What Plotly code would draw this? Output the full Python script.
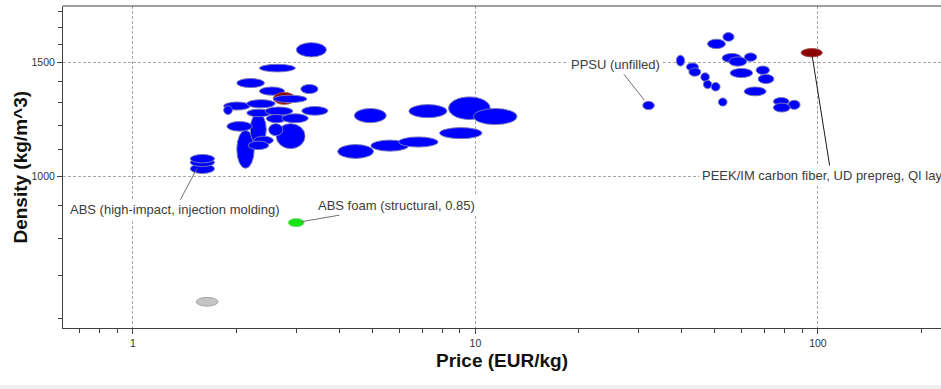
import math
import plotly.graph_objects as go

# Material property ranges: price (EUR/kg) and density (kg/m^3), low/high bounds.
price_lo = [2.01, 2.20, 3.00, 2.34, 2.01, 2.34, 3.09, 2.57, 2.57, 1.84, 1.84, 2.15, 3.11,
            2.15, 2.43, 2.45, 2.72, 1.88, 2.62, 2.49, 2.25, 2.17, 1.47, 1.47, 1.47,
            4.43, 6.39, 8.35, 9.87, 7.86, 4.95, 5.96, 3.96,
            30.8, 38.6, 41.3, 42.0, 45.5, 46.3, 48.8, 51.2, 47.6, 52.8, 52.5, 54.9, 61.0,
            55.4, 66.0, 66.9, 60.9, 74.1, 82.0, 74.1, 89.3, 2.84, 1.53]
price_hi = [2.26, 2.45, 3.67, 2.98, 2.42, 2.77, 3.47, 2.98, 3.22, 2.20, 1.95, 2.60, 3.71,
            2.53, 2.93, 2.81, 3.25, 2.23, 3.18, 2.74, 2.57, 2.49, 1.73, 1.73, 1.73,
            5.49, 8.26, 11.04, 13.22, 10.45, 6.39, 7.78, 5.04,
            33.3, 40.8, 44.8, 45.5, 48.2, 49.0, 51.8, 54.3, 53.7, 56.9, 59.9, 62.0, 66.3,
            64.5, 72.2, 74.4, 70.6, 82.4, 88.7, 83.0, 103.0, 3.16, 1.77]
dens_lo = [1028, 1116, 1531, 1451, 1372, 1335, 1343, 1292, 1300, 1266, 1246, 1276, 1243,
           1236, 1243, 1210, 1210, 1174, 1103, 1155, 1119, 1099, 1009, 1034, 1048,
           1210, 1232, 1224, 1202, 1143, 1093, 1109, 1065,
           1268, 1482, 1456, 1429, 1403, 1367, 1355, 1284, 1577, 1619, 1500, 1481, 1507,
           1422, 1438, 1392, 1332, 1288, 1269, 1257, 1531, 834, 628]
dens_hi = [1178, 1251, 1611, 1491, 1417, 1375, 1387, 1348, 1335, 1303, 1285, 1314, 1282,
           1270, 1280, 1246, 1249, 1215, 1206, 1206, 1153, 1133, 1044, 1066, 1080,
           1273, 1291, 1327, 1273, 1189, 1137, 1150, 1119,
           1306, 1540, 1498, 1472, 1446, 1408, 1397, 1322, 1631, 1670, 1550, 1531, 1553,
           1469, 1482, 1438, 1375, 1324, 1311, 1298, 1577, 859, 648]
group = (["std"] * 7 + ["sel"] + ["std"] * 17 + ["std"] * 8 +
         ["std"] * 20 + ["sel", "foam", "ref"])

names = [""] * len(price_lo)
names[24] = "ABS (high-impact, injection molding)"
names[33] = "PPSU (unfilled)"
names[53] = "PEEK/IM carbon fiber, UD prepreg, QI lay-up"
names[54] = "ABS foam (structural, 0.85)"

# Styling
styles = {
    "std": dict(fill="#0000ff", line="rgba(120,120,185,0.95)"),
    "sel": dict(fill="#8b0000", line="#a84a4a"),
    "foam": dict(fill="#14e614", line="#7ee07e"),
    "ref": dict(fill="#c4c4c4", line="#a6a6a6"),
}
# label offsets (px) from the labelled ellipse centre to the text centre, and arrow settings
label_style = {
    24: dict(ax=-27.5, ay=51, standoff=11, color="#707070"),
    33: dict(ax=-32.6, ay=-41.2, standoff=7, color="#707070"),
    53: dict(ax=19.5, ay=122.5, standoff=3, color="#1a1a1a"),
    54: dict(ax=100.8, ay=-17.5, standoff=5, color="#707070"),
}

FONT = "Liberation Sans, Arial, sans-serif"
AXIS = "#404040"
GRID = "#a8a8a8"

shapes = []
for lo_p, hi_p, lo_d, hi_d, g in zip(price_lo, price_hi, dens_lo, dens_hi, group):
    st = styles[g]
    shapes.append(dict(type="circle", xref="x", yref="y",
                       x0=lo_p, x1=hi_p, y0=lo_d, y1=hi_d,
                       fillcolor=st["fill"], line=dict(color=st["line"], width=1),
                       layer="above"))

# top frame line
shapes.append(dict(type="line", xref="paper", yref="paper", x0=0, x1=1, y0=1, y1=1,
                   line=dict(color=AXIS, width=1)))
# light strip along the bottom of the page
shapes.append(dict(type="rect", xref="paper", yref="paper", x0=-0.08, x1=1.01,
                   y0=-0.196, y1=-0.177, fillcolor="#efefef", line=dict(width=0),
                   layer="below"))

annotations = []
for idx, st in label_style.items():
    cx = (math.log10(price_lo[idx]) + math.log10(price_hi[idx])) / 2
    cy = (math.log10(dens_lo[idx]) + math.log10(dens_hi[idx])) / 2
    annotations.append(dict(x=cx, y=cy, xref="x", yref="y", text=names[idx],
                            showarrow=True, arrowhead=0, arrowwidth=1,
                            arrowcolor=st["color"], ax=st["ax"], ay=st["ay"],
                            standoff=st["standoff"], bgcolor="white", borderpad=2,
                            font=dict(family=FONT, size=13, color="#3c3c3c")))

# axis titles
annotations.append(dict(text="<b>Price (EUR/kg)</b>", xref="paper", yref="paper",
                        x=0.5, y=-0.10, xanchor="center", yanchor="middle",
                        showarrow=False, font=dict(family=FONT, size=19, color="#111")))
annotations.append(dict(text="<b>Density (kg/m^3)</b>", xref="paper", yref="paper",
                        x=-0.0495, y=0.5, xanchor="center", yanchor="middle",
                        textangle=-90, showarrow=False,
                        font=dict(family=FONT, size=19, color="#111")))

x_major = [1, 10, 100]
x_minor = [0.7, 0.8, 0.9, 2, 3, 4, 5, 6, 7, 8, 9, 20, 30, 40, 50, 60, 70, 80, 90, 200]
y_major = [1000, 1500]
y_minor = [600, 700, 800, 900, 1100, 1200, 1300, 1400, 1600, 1700, 1800]

fig = go.Figure()
fig.update_layout(
    width=941, height=389,
    margin=dict(l=63, r=0, t=6, b=61),
    paper_bgcolor="white", plot_bgcolor="white",
    showlegend=False,
    shapes=shapes, annotations=annotations,
    xaxis=dict(type="log", range=[-0.2043, 2.3594], tickmode="array",
               tickvals=x_major, ticktext=[str(v) for v in x_major],
               ticks="outside", ticklen=5, tickcolor=AXIS, tickwidth=1,
               showgrid=True, gridcolor=GRID, griddash="3px,2px", gridwidth=1,
               showline=True, linecolor=AXIS, linewidth=1, zeroline=False,
               tickfont=dict(family=FONT, size=10.5, color="#333"),
               minor=dict(tickmode="array", tickvals=x_minor, ticks="outside",
                          ticklen=4, tickcolor=AXIS, showgrid=False)),
    yaxis=dict(type="log", range=[2.764, 3.264], tickmode="array",
               tickvals=y_major, ticktext=[str(v) for v in y_major],
               ticks="outside", ticklen=5, tickcolor=AXIS, tickwidth=1,
               showgrid=True, gridcolor=GRID, griddash="3px,2px", gridwidth=1,
               showline=True, linecolor=AXIS, linewidth=1, zeroline=False,
               tickfont=dict(family=FONT, size=10.5, color="#333"),
               minor=dict(tickmode="array", tickvals=y_minor, ticks="outside",
                          ticklen=4, tickcolor=AXIS, showgrid=False)),
)

fig.write_html("out.html")
